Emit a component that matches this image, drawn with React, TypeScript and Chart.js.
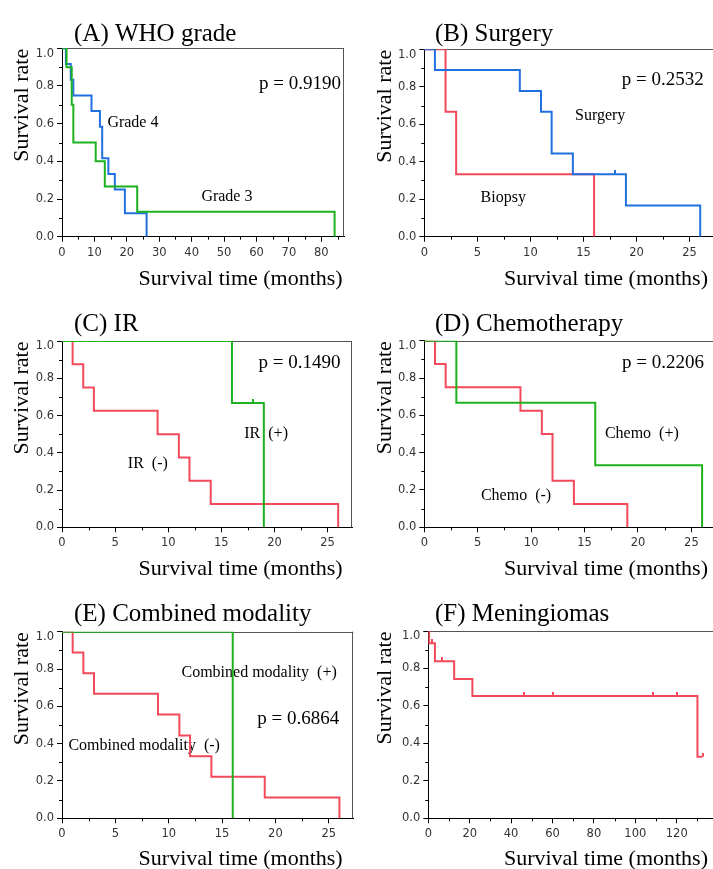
import React, { useEffect, useRef } from 'react';
import { Chart, registerables } from 'chart.js';

Chart.register(...registerables);

// ---------------- Data ----------------
// (A) WHO grade
const grade4Times = [0, 1.2, 2.7, 3.5, 9.1, 11.7, 12.4, 14.3, 16.3, 19.4, 26.1];
const grade4Surv = [1, 0.917, 0.833, 0.75, 0.667, 0.583, 0.417, 0.333, 0.25, 0.125, 0];
const grade3Times = [0, 1.4, 3.0, 3.5, 10.4, 13.2, 23.2, 84.1];
const grade3Surv = [1, 0.9, 0.7, 0.5, 0.4, 0.267, 0.133, 0];

// (B) Surgery
const surgeryTimes = [0, 1, 9, 11, 12, 14, 19, 26];
const surgerySurv = [1, 0.889, 0.778, 0.667, 0.444, 0.333, 0.167, 0];
const surgeryCensorTimes = [18];
const surgeryCensorSurv = [0.333];
const biopsyTimes = [0, 2, 3, 16];
const biopsySurv = [1, 0.667, 0.333, 0];

// (C) IR
const irNegTimes = [0, 1, 2, 3, 9, 11, 12, 14, 26];
const irNegSurv = [1, 0.875, 0.75, 0.625, 0.5, 0.375, 0.25, 0.125, 0];
const irPosTimes = [0, 16, 19];
const irPosSurv = [1, 0.667, 0];
const irPosCensorTimes = [18];
const irPosCensorSurv = [0.667];

// (D) Chemotherapy
const chemoNegTimes = [0, 1, 2, 9, 11, 12, 14, 19];
const chemoNegSurv = [1, 0.875, 0.75, 0.625, 0.5, 0.25, 0.125, 0];
const chemoPosTimes = [0, 3, 16, 26];
const chemoPosSurv = [1, 0.667, 0.333, 0];

// (E) Combined modality
const cmNegTimes = [0, 1, 2, 3, 9, 11, 12, 14, 19, 26];
const cmNegSurv = [1, 0.889, 0.778, 0.667, 0.556, 0.444, 0.333, 0.222, 0.111, 0];
const cmPosTimes = [0, 16];
const cmPosSurv = [1, 0];

// (F) Meningiomas
const meningTimes = [0, 0.4, 3.2, 12.5, 21.3, 130, 132.5];
const meningSurv = [1, 0.934, 0.838, 0.744, 0.653, 0.329, 0.329];
const meningCensorTimes = [2, 6.4, 46.4, 60.3, 108.3, 120.3, 132.5];
const meningCensorSurv = [0.934, 0.838, 0.653, 0.653, 0.653, 0.653, 0.329];

// Tick labels
const yTicks = [0, 0.2, 0.4, 0.6, 0.8, 1.0];
const xTicksWho = [0, 10, 20, 30, 40, 50, 60, 70, 80];
const xTicksMonths = [0, 5, 10, 15, 20, 25];
const xTicksMening = [0, 20, 40, 60, 80, 100, 120];

// ---------------- Styles ----------------
const BLUE = '#2070e0';
const GREEN = '#1db21d';
const RED = '#f24a5a';
const SERIF = "'Liberation Serif', 'Times New Roman', serif";
const SANS = "'DejaVu Sans', Verdana, sans-serif";
const TICK_COLOR = '#333';
const X_TITLE = 'Survival time (months)';
const Y_TITLE = 'Survival rate';

type Series = { times: number[]; surv: number[]; color: string };
type Note = { text: string; x: number; y: number; size: number };
type Panel = {
  id: string; title: string;
  left: number; top: number; w: number; h: number;
  yW: number; xH: number; padTop: number; padRight: number;
  xMax: number; xTicks: number[];
  titleX: number; yTitleX: number; xTitleRight: number;
  series: Series[]; censors: Series[]; notes: Note[];
};

const TITLE_Y = 34;
const X_TITLE_Y = 279;

const panels: Panel[] = [
  {
    id: 'A', title: '(A) WHO grade', left: 0, top: 0, w: 356, h: 291,
    yW: 62, xH: 54.3, padTop: 48.3, padRight: 12, xMax: 87, xTicks: xTicksWho,
    titleX: 74, yTitleX: 22.5, xTitleRight: 342.7,
    series: [
      { times: grade3Times, surv: grade3Surv, color: GREEN },
      { times: grade4Times, surv: grade4Surv, color: BLUE },
    ],
    censors: [],
    notes: [
      { text: 'p = 0.9190', x: 60.8, y: 0.81, size: 19 },
      { text: 'Grade 4', x: 14, y: 0.605, size: 16 },
      { text: 'Grade 3', x: 43, y: 0.212, size: 16 },
    ],
  },
  {
    id: 'B', title: '(B) Surgery', left: 356, top: 0, w: 362, h: 291,
    yW: 68.3, xH: 54.3, padTop: 49.3, padRight: 2, xMax: 27.3, xTicks: xTicksMonths,
    titleX: 79, yTitleX: 29, xTitleRight: 352,
    series: [
      { times: surgeryTimes, surv: surgerySurv, color: BLUE },
      { times: biopsyTimes, surv: biopsySurv, color: RED },
    ],
    censors: [{ times: surgeryCensorTimes, surv: surgeryCensorSurv, color: BLUE }],
    notes: [
      { text: 'p = 0.2532', x: 18.6, y: 0.836, size: 19 },
      { text: 'Surgery', x: 14.2, y: 0.644, size: 16 },
      { text: 'Biopsy', x: 5.3, y: 0.205, size: 16 },
    ],
  },
  {
    id: 'C', title: '(C) IR', left: 0, top: 290, w: 356, h: 292,
    yW: 62, xH: 54.7, padTop: 51, padRight: 2.7, xMax: 27.3, xTicks: xTicksMonths,
    titleX: 74, yTitleX: 22.5, xTitleRight: 342.7,
    series: [
      { times: irPosTimes, surv: irPosSurv, color: GREEN },
      { times: irNegTimes, surv: irNegSurv, color: RED },
    ],
    censors: [{ times: irPosCensorTimes, surv: irPosCensorSurv, color: GREEN }],
    notes: [
      { text: 'p = 0.1490', x: 18.5, y: 0.88, size: 19 },
      { text: 'IR  (+)', x: 17.16, y: 0.5, size: 16 },
      { text: 'IR  (-)', x: 6.2, y: 0.343, size: 16 },
    ],
  },
  {
    id: 'D', title: '(D) Chemotherapy', left: 356, top: 290, w: 362, h: 292,
    yW: 68.3, xH: 54.7, padTop: 50.7, padRight: 2, xMax: 27.3, xTicks: xTicksMonths,
    titleX: 79, yTitleX: 29, xTitleRight: 352,
    series: [
      { times: chemoPosTimes, surv: chemoPosSurv, color: GREEN },
      { times: chemoNegTimes, surv: chemoNegSurv, color: RED },
    ],
    censors: [],
    notes: [
      { text: 'p = 0.2206', x: 18.5, y: 0.882, size: 19 },
      { text: 'Chemo  (+)', x: 16.9, y: 0.5, size: 16 },
      { text: 'Chemo  (-)', x: 5.3, y: 0.17, size: 16 },
    ],
  },
  {
    id: 'E', title: '(E) Combined modality', left: 0, top: 580, w: 356, h: 289,
    yW: 62, xH: 50.7, padTop: 51.7, padRight: 2.7, xMax: 27.3, xTicks: xTicksMonths,
    titleX: 74, yTitleX: 22.5, xTitleRight: 342.7,
    series: [
      { times: cmPosTimes, surv: cmPosSurv, color: GREEN },
      { times: cmNegTimes, surv: cmNegSurv, color: RED },
    ],
    censors: [],
    notes: [
      { text: 'Combined modality  (+)', x: 11.2, y: 0.782, size: 16 },
      { text: 'p = 0.6864', x: 18.3, y: 0.53, size: 19 },
      { text: 'Combined modality  (-)', x: 0.6, y: 0.389, size: 16 },
    ],
  },
  {
    id: 'F', title: '(F) Meningiomas', left: 356, top: 580, w: 362, h: 289,
    yW: 72.3, xH: 50.7, padTop: 51, padRight: 2, xMax: 138, xTicks: xTicksMening,
    titleX: 79, yTitleX: 29.3, xTitleRight: 352,
    series: [{ times: meningTimes, surv: meningSurv, color: RED }],
    censors: [{ times: meningCensorTimes, surv: meningCensorSurv, color: RED }],
    notes: [],
  },
];

function censorImage(color: string) {
  const c = document.createElement('canvas');
  c.width = 2;
  c.height = 8;
  const g = c.getContext('2d')!;
  g.fillStyle = color;
  g.fillRect(0, 0, 2, 4);
  return c;
}

function buildConfig(p: Panel): any {
  const toPts = (s: Series) => s.times.map((t, k) => ({ x: t, y: s.surv[k] }));
  const datasets: any[] = [
    ...p.censors.map((c) => ({
      type: 'line',
      data: toPts(c),
      showLine: false,
      pointStyle: censorImage(c.color),
      pointRadius: 3,
      pointHoverRadius: 3,
      borderColor: c.color,
      backgroundColor: c.color,
    })),
    ...p.series.map((s) => ({
      type: 'line',
      data: toPts(s),
      stepped: 'before',
      borderColor: s.color,
      backgroundColor: s.color,
      borderWidth: 2,
      pointRadius: 0,
      fill: false,
      tension: 0,
    })),
  ];

  const tickFontSize = 11.5;

  const decor = {
    id: 'decor' + p.id,
    beforeDatasetsDraw(chart: any) {
      const { ctx, chartArea: a, scales } = chart;
      ctx.save();
      // frame top/right
      ctx.strokeStyle = '#555';
      ctx.lineWidth = 1;
      ctx.beginPath();
      const t = Math.round(a.top) + 0.5;
      const r = Math.round(a.right) - 0.5;
      ctx.moveTo(a.left, t);
      ctx.lineTo(a.right, t);
      ctx.moveTo(r, a.top);
      ctx.lineTo(r, a.bottom);
      ctx.stroke();
      // annotations
      ctx.fillStyle = '#000';
      ctx.textAlign = 'left';
      ctx.textBaseline = 'middle';
      p.notes.forEach((n) => {
        ctx.font = `${n.size}px ${SERIF}`;
        ctx.fillText(n.text, scales.x.getPixelForValue(n.x), scales.y.getPixelForValue(n.y));
      });
      ctx.restore();
    },
    afterDraw(chart: any) {
      const { ctx, chartArea: a, scales } = chart;
      const xs = scales.x;
      const ys = scales.y;
      ctx.save();
      // minor ticks
      ctx.strokeStyle = '#000';
      ctx.lineWidth = 1;
      ctx.beginPath();
      const xStep = p.xTicks[1] - p.xTicks[0];
      for (let v = p.xTicks[0] + xStep / 2; v <= p.xMax; v += xStep) {
        const px = Math.round(xs.getPixelForValue(v)) + 0.5;
        ctx.moveTo(px, a.bottom);
        ctx.lineTo(px, a.bottom + 3);
      }
      const yStep = yTicks[1] - yTicks[0];
      for (let v = yTicks[0] + yStep / 2; v < 1; v += yStep) {
        const py = Math.round(ys.getPixelForValue(v)) + 0.5;
        ctx.moveTo(a.left, py);
        ctx.lineTo(a.left - 3, py);
      }
      ctx.stroke();

      // y tick labels (top label kept inside the frame, as in the original)
      ctx.fillStyle = TICK_COLOR;
      ctx.font = `${tickFontSize}px ${SANS}`;
      ctx.textAlign = 'right';
      ctx.textBaseline = 'middle';
      yTicks.forEach((v) => {
        const py = Math.max(ys.getPixelForValue(v), a.top + 5.5);
        ctx.fillText(v.toFixed(1), a.left - 8, py);
      });

      // axis titles
      ctx.fillStyle = '#000';
      ctx.font = `22px ${SERIF}`;
      ctx.textAlign = 'right';
      ctx.textBaseline = 'middle';
      ctx.fillText(X_TITLE, p.xTitleRight, X_TITLE_Y);
      ctx.save();
      ctx.translate(p.yTitleX, a.top + 0.5);
      ctx.rotate(-Math.PI / 2);
      ctx.fillText(Y_TITLE, 0, 0);
      ctx.restore();

      // panel title
      ctx.font = `25px ${SERIF}`;
      ctx.textAlign = 'left';
      ctx.fillText(p.title, p.titleX, TITLE_Y);
      ctx.restore();
    },
  };

  const tickFont = { family: SANS, size: tickFontSize };

  return {
    type: 'line',
    data: { datasets },
    plugins: [decor],
    options: {
      animation: false,
      responsive: false,
      maintainAspectRatio: false,
      devicePixelRatio: 1,
      events: [],
      layout: { padding: { top: p.padTop, right: p.padRight, left: 0, bottom: 0 } },
      plugins: {
        legend: { display: false },
        tooltip: { enabled: false },
        title: { display: false },
      },
      scales: {
        x: {
          type: 'linear',
          min: 0,
          max: p.xMax,
          afterBuildTicks: (s: any) => {
            s.ticks = p.xTicks.map((v) => ({ value: v }));
          },
          afterFit: (s: any) => {
            s.height = p.xH;
          },
          ticks: {
            includeBounds: false,
            autoSkip: false,
            maxRotation: 0,
            font: tickFont,
            color: TICK_COLOR,
            padding: 4,
            callback: (v: any) => String(v),
          },
          grid: { drawOnChartArea: false, drawTicks: true, tickLength: 5, tickColor: '#000' },
          border: { display: true, color: '#000', width: 1 },
          title: { display: false },
        },
        y: {
          type: 'linear',
          min: 0,
          max: 1,
          afterBuildTicks: (s: any) => {
            s.ticks = yTicks.map((v) => ({ value: v }));
          },
          afterFit: (s: any) => {
            s.width = p.yW;
          },
          ticks: {
            display: false,
            includeBounds: false,
            autoSkip: false,
          },
          grid: { drawOnChartArea: false, drawTicks: true, tickLength: 5, tickColor: '#000' },
          border: { display: true, color: '#000', width: 1 },
          title: { display: false },
        },
      },
    },
  };
}

export default function App() {
  const refs = useRef<(HTMLCanvasElement | null)[]>([]);

  useEffect(() => {
    const charts = panels.map((p, i) => new Chart(refs.current[i] as HTMLCanvasElement, buildConfig(p)));
    return () => {
      charts.forEach((c) => c.destroy());
    };
  }, []);

  return (
    <div
      style={{
        position: 'absolute',
        left: 0,
        top: 0,
        width: 713,
        height: 869,
        overflow: 'hidden',
        background: '#fff',
      }}
    >
      {panels.map((p, i) => (
        <div key={p.id} style={{ position: 'absolute', left: p.left, top: p.top, width: p.w, height: p.h }}>
          <canvas
            ref={(el) => {
              refs.current[i] = el;
            }}
            width={p.w}
            height={p.h}
            style={{ width: p.w, height: p.h, display: 'block' }}
          />
        </div>
      ))}
    </div>
  );
}
